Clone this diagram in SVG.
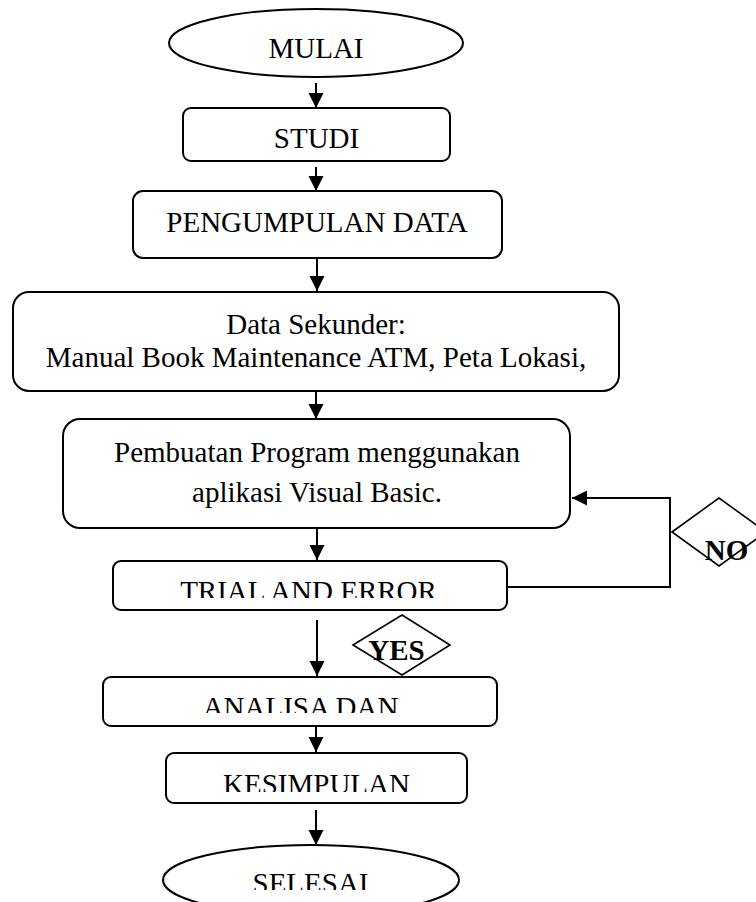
<svg xmlns="http://www.w3.org/2000/svg" width="756" height="902" viewBox="0 0 756 902">
<style>
.box{fill:#fff;stroke:#000;stroke-width:2}
.dia{fill:#fff;stroke:#000;stroke-width:1.6}
.t{font-family:"Liberation Serif","Times New Roman",serif;font-size:29px;fill:#000;text-anchor:middle}
.b{font-weight:bold}
.c{fill:none;stroke:#000;stroke-width:2}
</style>
<defs>
<marker id="ah" markerUnits="userSpaceOnUse" markerWidth="16" markerHeight="16" refX="15" refY="7.5" orient="auto"><path d="M0,0 L15,7.5 L0,15 z" fill="#000"/></marker>
<clipPath id="cTrial"><rect x="100" y="561" width="420" height="37"/></clipPath>
<clipPath id="cAnal"><rect x="100" y="677" width="420" height="36"/></clipPath>
<clipPath id="cKes"><rect x="160" y="753" width="320" height="39"/></clipPath>
<clipPath id="cSel"><rect x="150" y="845" width="330" height="45"/></clipPath>
</defs>
<rect width="756" height="902" fill="#fff"/>
<g id="connectors">
<line class="c" x1="316" y1="83" x2="316" y2="108" marker-end="url(#ah)"/>
<line class="c" x1="316" y1="167" x2="316" y2="191" marker-end="url(#ah)"/>
<line class="c" x1="317" y1="258" x2="317" y2="291" marker-end="url(#ah)"/>
<line class="c" x1="316" y1="392" x2="316" y2="419" marker-end="url(#ah)"/>
<line class="c" x1="317" y1="529" x2="317" y2="560" marker-end="url(#ah)"/>
<line class="c" x1="317" y1="620" x2="317" y2="676" marker-end="url(#ah)"/>
<line class="c" x1="316" y1="726" x2="316" y2="752" marker-end="url(#ah)"/>
<line class="c" x1="316" y1="810" x2="316" y2="845" marker-end="url(#ah)"/>
<polyline class="c" points="507,587 670,587 670,498 572,498" marker-end="url(#ah)"/>
</g>
<g id="mulai"><ellipse class="box" cx="316" cy="43" rx="147" ry="34"/><text class="t" x="316" y="58">MULAI</text></g>
<g id="studi"><rect class="box" x="183" y="108" width="267" height="53" rx="8"/><text class="t" x="316.5" y="148">STUDI</text></g>
<g id="pengumpulan"><rect class="box" x="133" y="191" width="369" height="67" rx="10"/><text class="t" x="317" y="232">PENGUMPULAN DATA</text></g>
<g id="datasekunder"><rect class="box" x="13" y="292" width="606" height="99" rx="16"/><text class="t" x="316" y="334">Data Sekunder:</text><text class="t" x="316" y="367">Manual Book Maintenance ATM, Peta Lokasi,</text></g>
<g id="pembuatan"><rect class="box" x="63" y="419" width="507" height="109" rx="17"/><text class="t" x="317" y="462">Pembuatan Program menggunakan</text><text class="t" x="317" y="502">aplikasi Visual Basic.</text></g>
<g id="trial"><rect class="box" x="113" y="561" width="394" height="49" rx="8"/><text class="t" x="308.5" y="601" clip-path="url(#cTrial)">TRIAL AND ERROR</text></g>
<g id="yes"><polygon class="dia" points="353,645 402,615 450,645 402,675"/><text class="t b" x="396.5" y="660">YES</text></g>
<g id="no"><polygon class="dia" points="672,532 719,498 766,532 719,566"/><text class="t b" x="726.5" y="560">NO</text></g>
<g id="analisa"><rect class="box" x="103" y="677" width="394" height="49" rx="8"/><text class="t" x="300.5" y="717" clip-path="url(#cAnal)">ANALISA DAN</text></g>
<g id="kesimpulan"><rect class="box" x="166" y="753" width="301" height="50" rx="8"/><text class="t" x="316.5" y="794" clip-path="url(#cKes)">KESIMPULAN</text></g>
<g id="selesai"><ellipse class="box" cx="311" cy="880" rx="148" ry="35"/><text class="t" x="310.5" y="893" clip-path="url(#cSel)">SELESAI</text></g>
</svg>
